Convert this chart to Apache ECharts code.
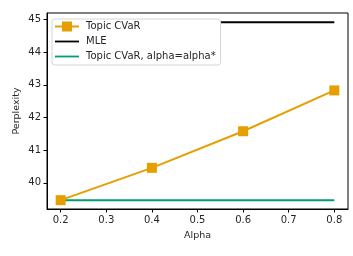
<!DOCTYPE html>
<html>
<head>
<meta charset="utf-8">
<script src="https://cdn.jsdelivr.net/npm/echarts@6/dist/echarts.min.js"></script>
<style>
  html, body { margin: 0; padding: 0; background: #fff; }
  #chart { width: 353px; height: 256px; }
</style>
</head>
<body>
<div id="chart"></div>
<script>
// values
const alphas = [0.2, 0.4, 0.6, 0.8];
const topicCvar = [39.47, 40.46, 41.58, 42.83];
const mleLevel = 44.92;
const alphaStarLevel = 39.47;
const xTicks = [0.2, 0.3, 0.4, 0.5, 0.6, 0.7, 0.8];
const yTicks = [40, 41, 42, 43, 44, 45];

const font = "DejaVu Sans";
const chart = echarts.init(document.getElementById("chart"), null, { renderer: "canvas" });

const flat = (v) => [[alphas[0], v], [alphas[alphas.length - 1], v]];

// legend swatches: plain line, and line with a square marker in the middle
const lineIcon = "path://M0,0 M24,11 M0,4.6 L24,4.6 L24,6.4 L0,6.4 Z";
const squareIcon = "path://M0,0 M24,11 M0,4.6 L7,4.6 L7,0.5 L17,0.5 L17,4.6 L24,4.6 L24,6.4 L17,6.4 L17,10.5 L7,10.5 L7,6.4 L0,6.4 Z";

const option = {
    animation: false,
    backgroundColor: "#fff",
    textStyle: { fontFamily: font },
    grid: {
        left: 47, right: 5, top: 13, bottom: 47,
        show: true, borderColor: "#000", borderWidth: 1, backgroundColor: "transparent",
    },
    legend: {
        orient: "vertical",
        left: 52, top: 19,
        z: 10,
        padding: [2, 5, 3, 3],
        itemGap: 4,
        itemWidth: 24, itemHeight: 11,
        backgroundColor: "#fff",
        borderColor: "#d5d5d5", borderWidth: 1, borderRadius: 3,
        textStyle: { fontFamily: font, fontSize: 10, color: "#262626", padding: [0, 0, 0, 2] },
        data: [
            { name: "Topic CVaR", icon: squareIcon },
            { name: "MLE", icon: lineIcon },
            { name: "Topic CVaR, alpha=alpha*", icon: lineIcon },
        ],
    },
    xAxis: {
        type: "value",
        min: 0.17, max: 0.83,
        name: "Alpha",
        nameLocation: "middle",
        nameGap: 22,
        nameTextStyle: { fontFamily: font, fontSize: 9.5, color: "#262626" },
        axisLine: { show: true, lineStyle: { color: "#000", width: 1 } },
        axisTick: { show: true, length: 3.5, customValues: xTicks, lineStyle: { color: "#000" } },
        axisLabel: { customValues: xTicks, fontFamily: font, fontSize: 10, color: "#262626", margin: 6,
            formatter: (v) => v.toFixed(1) },
        splitLine: { show: false },
    },
    yAxis: {
        type: "value",
        min: 39.2, max: 45.2,
        name: "Perplexity",
        nameLocation: "middle",
        nameGap: 25,
        nameMoveOverlap: false,
        nameTextStyle: { fontFamily: font, fontSize: 9.5, color: "#262626" },
        axisLine: { show: true, lineStyle: { color: "#000", width: 1 } },
        axisTick: { show: true, length: 3.5, customValues: yTicks, lineStyle: { color: "#000" } },
        axisLabel: { customValues: yTicks, fontFamily: font, fontSize: 10, color: "#262626", margin: 6 },
        splitLine: { show: false },
    },
    series: [
        {
            name: "Topic CVaR",
            type: "line",
            data: alphas.map((a, i) => [a, topicCvar[i]]),
            symbol: "rect",
            symbolSize: 10,
            itemStyle: { color: "#E69F00" },
            lineStyle: { color: "#E69F00", width: 2 },
            z: 4,
        },
        {
            name: "MLE",
            type: "line",
            data: flat(mleLevel),
            symbol: "none",
            itemStyle: { color: "#000" },
            lineStyle: { color: "#000", width: 2 },
            z: 3,
        },
        {
            name: "Topic CVaR, alpha=alpha*",
            type: "line",
            data: flat(alphaStarLevel),
            symbol: "none",
            itemStyle: { color: "#009E73" },
            lineStyle: { color: "#009E73", width: 2 },
            z: 3,
        },
    ],
};

chart.setOption(option);
</script>
</body>
</html>
